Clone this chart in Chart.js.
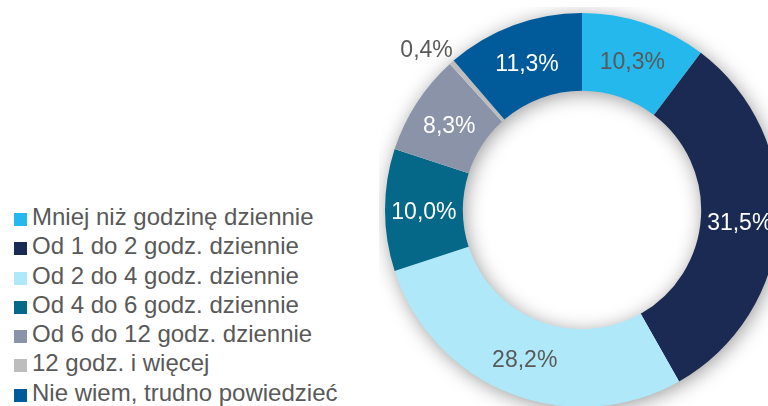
<!DOCTYPE html>
<html>
<head>
<meta charset="utf-8">
<script src="https://cdn.jsdelivr.net/npm/chart.js@4/dist/chart.umd.min.js"></script>
<style>
  html, body { margin: 0; padding: 0; background: #fff; }
  body { width: 768px; height: 406px; overflow: hidden; position: relative; font-family: "Liberation Sans", Arial, sans-serif; }
  #legend { position: absolute; left: 14px; top: 202px; color: #595959; font-size: 24px; }
  #legend .row { height: 29.3px; line-height: 29.3px; white-space: nowrap; }
  #legend .box { display: inline-block; width: 13px; height: 13px; margin-right: 5px; vertical-align: -1px; }
  #wrap { position: absolute; left: 379px; top: 7px; width: 406px; height: 406px; }
</style>
</head>
<body>
<div id="legend"></div>
<div id="wrap"><canvas id="ring"></canvas></div>
<script>
const labels = [
    "Mniej niż godzinę dziennie",
    "Od 1 do 2 godz. dziennie",
    "Od 2 do 4 godz. dziennie",
    "Od 4 do 6 godz. dziennie",
    "Od 6 do 12 godz. dziennie",
    "12 godz. i więcej",
    "Nie wiem, trudno powiedzieć"
];
const shares = [10.3, 31.5, 28.2, 10.0, 8.3, 0.4, 11.3];
const colors = ["#25b8ec", "#1b2a52", "#afe8f9", "#066888", "#8a93a8", "#bdbdbd", "#015a99"];
const textColors = ["#595959", "#ffffff", "#595959", "#ffffff", "#ffffff", "#595959", "#ffffff"];

// legend on the left, built from the same arrays
const legend = document.getElementById('legend');
labels.forEach(function (name, i) {
    const row = document.createElement('div');
    row.className = 'row';
    row.innerHTML = '<span class="box" style="background:' + colors[i] + '"></span>' + name;
    legend.appendChild(row);
});

// soft shadow under the whole ring
const ringShadow = {
    id: 'ringShadow',
    beforeDatasetsDraw(chart) {
        const arc = chart.getDatasetMeta(0).data[0];
        if (!arc) return;
        const ctx = chart.ctx;
        ctx.save();
        ctx.shadowColor = 'rgba(0,0,0,0.42)';
        ctx.shadowBlur = 20;
        ctx.shadowOffsetX = 2;
        ctx.shadowOffsetY = 3;
        ctx.beginPath();
        ctx.arc(arc.x, arc.y, arc.outerRadius - 1, 0, Math.PI * 2);
        ctx.arc(arc.x, arc.y, arc.innerRadius + 1, Math.PI * 2, 0, true);
        ctx.fillStyle = '#ffffff';
        ctx.fill();
        ctx.restore();
    }
};

// percentage labels in the middle of each slice, tiny slice outside
const sliceLabels = {
    id: 'sliceLabels',
    afterDatasetsDraw(chart) {
        const ctx = chart.ctx;
        const meta = chart.getDatasetMeta(0);
        ctx.save();
        ctx.font = '23px "Liberation Sans", Arial, sans-serif';
        ctx.textAlign = 'center';
        ctx.textBaseline = 'middle';
        meta.data.forEach(function (arc, i) {
            let mid = (arc.startAngle + arc.endAngle) / 2;
            let r = (arc.innerRadius + arc.outerRadius) / 2;
            if (shares[i] < 2) {
                r = arc.outerRadius + 28;
                mid -= 0.04;
            }
            const x = arc.x + Math.cos(mid) * r;
            const y = arc.y + Math.sin(mid) * r + 3;
            ctx.fillStyle = textColors[i];
            ctx.fillText(shares[i].toFixed(1).replace('.', ',') + '%', x, y);
        });
        ctx.restore();
    }
};

new Chart(document.getElementById('ring'), {
    type: 'doughnut',
    data: {
        labels: labels,
        datasets: [{
            data: shares,
            backgroundColor: colors,
            borderWidth: 0
        }]
    },
    options: {
        responsive: true,
        maintainAspectRatio: false,
        animation: false,
        cutout: '60.5%',
        layout: { padding: 6 },
        plugins: {
            legend: { display: false },
            tooltip: { enabled: false }
        }
    },
    plugins: [ringShadow, sliceLabels]
});
</script>
</body>
</html>
